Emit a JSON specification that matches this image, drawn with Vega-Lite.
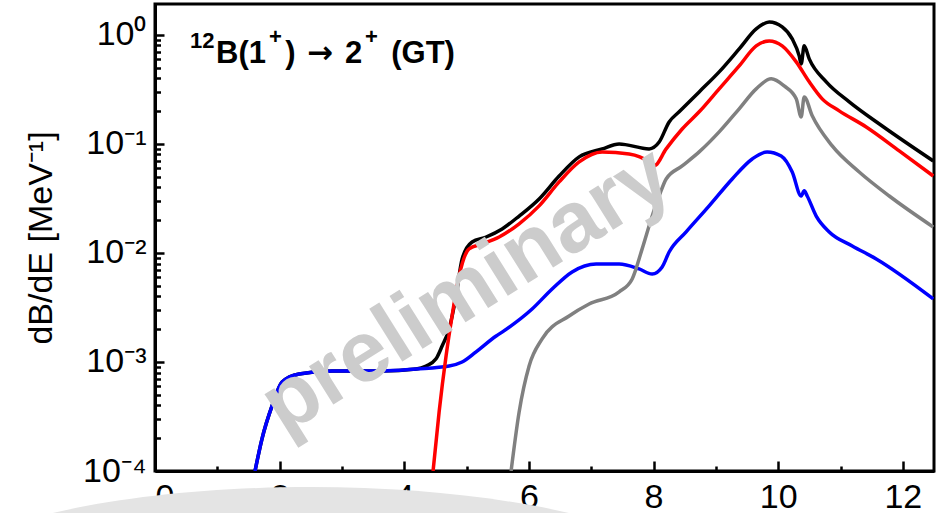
{
  "$schema": "https://vega.github.io/schema/vega-lite/v6.json",
  "width": 779,
  "height": 467,
  "autosize": {"type": "none"},
  "padding": {"left": 155, "top": 4, "right": 9, "bottom": 42},
  "background": "white",
  "config": {
    "view": {"stroke": "black", "strokeWidth": 3},
    "axis": {
      "grid": false,
      "domainColor": "black",
      "domainWidth": 3,
      "tickColor": "black",
      "tickWidth": 2.5,
      "labelColor": "black",
      "labelFont": "Liberation Sans",
      "labelFontSize": 34,
      "titleFont": "Liberation Sans",
      "titleFontSize": 34,
      "titleFontWeight": "normal",
      "titleColor": "black"
    },
    "text": {"font": "Liberation Sans", "fontWeight": "bold", "color": "black", "align": "left", "baseline": "alphabetic"}
  },
  "datasets": {
    "spectra": [
      {"s": "total", "e": 1.605, "v": 1.0e-4},
      {"s": "total", "e": 1.717, "v": 1.97e-4},
      {"s": "total", "e": 1.878, "v": 3.95e-4},
      {"s": "total", "e": 2.039, "v": 6.55e-4},
      {"s": "total", "e": 2.311, "v": 7.76e-4},
      {"s": "total", "e": 2.841, "v": 8.27e-4},
      {"s": "total", "e": 3.644, "v": 8.27e-4},
      {"s": "total", "e": 4.189, "v": 8.63e-4},
      {"s": "total", "e": 4.350, "v": 9.19e-4},
      {"s": "total", "e": 4.510, "v": 1.07e-3},
      {"s": "total", "e": 4.607, "v": 1.40e-3},
      {"s": "total", "e": 4.719, "v": 2.01e-3},
      {"s": "total", "e": 4.831, "v": 4.03e-3},
      {"s": "total", "e": 4.928, "v": 8.81e-3},
      {"s": "total", "e": 5.088, "v": 1.26e-2},
      {"s": "total", "e": 5.313, "v": 1.40e-2},
      {"s": "total", "e": 5.570, "v": 1.66e-2},
      {"s": "total", "e": 5.843, "v": 2.18e-2},
      {"s": "total", "e": 6.164, "v": 3.13e-2},
      {"s": "total", "e": 6.485, "v": 5.08e-2},
      {"s": "total", "e": 6.806, "v": 7.60e-2},
      {"s": "total", "e": 7.175, "v": 9.00e-2},
      {"s": "total", "e": 7.448, "v": 0.100},
      {"s": "total", "e": 7.929, "v": 0.090},
      {"s": "total", "e": 8.090, "v": 0.104},
      {"s": "total", "e": 8.250, "v": 0.159},
      {"s": "total", "e": 8.411, "v": 0.197},
      {"s": "total", "e": 8.732, "v": 0.300},
      {"s": "total", "e": 9.053, "v": 0.458},
      {"s": "total", "e": 9.374, "v": 0.744},
      {"s": "total", "e": 9.647, "v": 1.135},
      {"s": "total", "e": 9.856, "v": 1.316},
      {"s": "total", "e": 10.064, "v": 1.184},
      {"s": "total", "e": 10.225, "v": 0.919},
      {"s": "total", "e": 10.337, "v": 0.642},
      {"s": "total", "e": 10.369, "v": 0.542},
      {"s": "total", "e": 10.417, "v": 0.793},
      {"s": "total", "e": 10.498, "v": 0.602},
      {"s": "total", "e": 10.771, "v": 0.371},
      {"s": "total", "e": 11.140, "v": 0.243},
      {"s": "total", "e": 11.669, "v": 0.146},
      {"s": "total", "e": 12.488, "v": 0.0698},

      {"s": "low", "e": 1.605, "v": 1.0e-4},
      {"s": "low", "e": 1.717, "v": 1.97e-4},
      {"s": "low", "e": 1.878, "v": 3.95e-4},
      {"s": "low", "e": 2.039, "v": 6.55e-4},
      {"s": "low", "e": 2.311, "v": 7.76e-4},
      {"s": "low", "e": 2.841, "v": 8.27e-4},
      {"s": "low", "e": 3.644, "v": 8.27e-4},
      {"s": "low", "e": 4.189, "v": 8.63e-4},
      {"s": "low", "e": 4.719, "v": 9.19e-4},
      {"s": "low", "e": 4.928, "v": 1.0e-3},
      {"s": "low", "e": 5.152, "v": 1.24e-3},
      {"s": "low", "e": 5.474, "v": 1.73e-3},
      {"s": "low", "e": 5.570, "v": 1.88e-3},
      {"s": "low", "e": 6.051, "v": 3.06e-3},
      {"s": "low", "e": 6.372, "v": 4.67e-3},
      {"s": "low", "e": 6.693, "v": 6.70e-3},
      {"s": "low", "e": 7.079, "v": 7.92e-3},
      {"s": "low", "e": 7.448, "v": 7.92e-3},
      {"s": "low", "e": 7.769, "v": 7.13e-3},
      {"s": "low", "e": 7.978, "v": 6.41e-3},
      {"s": "low", "e": 8.138, "v": 7.44e-3},
      {"s": "low", "e": 8.250, "v": 1.02e-2},
      {"s": "low", "e": 8.523, "v": 1.56e-2},
      {"s": "low", "e": 8.892, "v": 2.70e-2},
      {"s": "low", "e": 9.262, "v": 4.77e-2},
      {"s": "low", "e": 9.583, "v": 7.28e-2},
      {"s": "low", "e": 9.823, "v": 8.45e-2},
      {"s": "low", "e": 10.048, "v": 7.76e-2},
      {"s": "low", "e": 10.225, "v": 5.53e-2},
      {"s": "low", "e": 10.369, "v": 3.33e-2},
      {"s": "low", "e": 10.417, "v": 3.71e-2},
      {"s": "low", "e": 10.465, "v": 3.33e-2},
      {"s": "low", "e": 10.610, "v": 2.18e-2},
      {"s": "low", "e": 10.819, "v": 1.56e-2},
      {"s": "low", "e": 11.188, "v": 1.16e-2},
      {"s": "low", "e": 11.573, "v": 8.81e-3},
      {"s": "low", "e": 12.488, "v": 3.79e-3},

      {"s": "mid", "e": 4.462, "v": 1.0e-4},
      {"s": "mid", "e": 4.559, "v": 3.48e-4},
      {"s": "mid", "e": 4.671, "v": 1.14e-3},
      {"s": "mid", "e": 4.767, "v": 2.64e-3},
      {"s": "mid", "e": 4.880, "v": 6.15e-3},
      {"s": "mid", "e": 5.040, "v": 1.09e-2},
      {"s": "mid", "e": 5.249, "v": 1.21e-2},
      {"s": "mid", "e": 5.522, "v": 1.40e-2},
      {"s": "mid", "e": 5.843, "v": 1.85e-2},
      {"s": "mid", "e": 6.164, "v": 2.70e-2},
      {"s": "mid", "e": 6.485, "v": 4.48e-2},
      {"s": "mid", "e": 6.806, "v": 6.84e-2},
      {"s": "mid", "e": 7.175, "v": 8.45e-2},
      {"s": "mid", "e": 7.608, "v": 8.10e-2},
      {"s": "mid", "e": 7.929, "v": 6.84e-2},
      {"s": "mid", "e": 8.010, "v": 6.28e-2},
      {"s": "mid", "e": 8.202, "v": 9.00e-2},
      {"s": "mid", "e": 8.459, "v": 0.137},
      {"s": "mid", "e": 8.732, "v": 0.197},
      {"s": "mid", "e": 9.053, "v": 0.320},
      {"s": "mid", "e": 9.374, "v": 0.519},
      {"s": "mid", "e": 9.647, "v": 0.793},
      {"s": "mid", "e": 9.856, "v": 0.881},
      {"s": "mid", "e": 10.064, "v": 0.793},
      {"s": "mid", "e": 10.289, "v": 0.566},
      {"s": "mid", "e": 10.498, "v": 0.371},
      {"s": "mid", "e": 10.706, "v": 0.259},
      {"s": "mid", "e": 10.979, "v": 0.201},
      {"s": "mid", "e": 11.412, "v": 0.143},
      {"s": "mid", "e": 11.942, "v": 8.63e-2},
      {"s": "mid", "e": 12.488, "v": 5.08e-2},

      {"s": "high", "e": 5.714, "v": 1.0e-4},
      {"s": "high", "e": 5.843, "v": 3.48e-4},
      {"s": "high", "e": 6.003, "v": 9.19e-4},
      {"s": "high", "e": 6.212, "v": 1.63e-3},
      {"s": "high", "e": 6.645, "v": 2.64e-3},
      {"s": "high", "e": 6.966, "v": 3.40e-3},
      {"s": "high", "e": 7.448, "v": 4.39e-3},
      {"s": "high", "e": 7.657, "v": 5.77e-3},
      {"s": "high", "e": 7.817, "v": 1.09e-2},
      {"s": "high", "e": 7.978, "v": 2.18e-2},
      {"s": "high", "e": 8.090, "v": 3.33e-2},
      {"s": "high", "e": 8.202, "v": 4.77e-2},
      {"s": "high", "e": 8.459, "v": 6.28e-2},
      {"s": "high", "e": 8.732, "v": 8.45e-2},
      {"s": "high", "e": 9.053, "v": 0.129},
      {"s": "high", "e": 9.374, "v": 0.210},
      {"s": "high", "e": 9.647, "v": 0.320},
      {"s": "high", "e": 9.888, "v": 0.395},
      {"s": "high", "e": 10.096, "v": 0.340},
      {"s": "high", "e": 10.289, "v": 0.259},
      {"s": "high", "e": 10.369, "v": 0.177},
      {"s": "high", "e": 10.417, "v": 0.270},
      {"s": "high", "e": 10.546, "v": 0.181},
      {"s": "high", "e": 10.867, "v": 9.59e-2},
      {"s": "high", "e": 11.300, "v": 5.53e-2},
      {"s": "high", "e": 11.782, "v": 3.33e-2},
      {"s": "high", "e": 12.488, "v": 1.73e-2}
    ],
    "labels": [
      {"id": "mass", "text": "12"},
      {"id": "parent", "text": "B(1"},
      {"id": "plus1", "text": "+"},
      {"id": "close", "text": ")"},
      {"id": "arrow", "text": "→"},
      {"id": "final", "text": "2"},
      {"id": "plus2", "text": "+"},
      {"id": "kind", "text": "(GT)"},
      {"id": "mark", "text": "preliminary"}
    ]
  },
  "layer": [
    {
      "data": {"name": "spectra"},
      "transform": [{"filter": "datum.s == 'total'"}],
      "mark": {"type": "line", "color": "#000000", "strokeWidth": 3.5, "clip": true, "interpolate": "monotone"},
      "encoding": {
        "x": {
          "field": "e",
          "type": "quantitative",
          "scale": {"domain": [0, 12.5], "nice": false, "zero": false},
          "axis": {
            "title": null,
            "values": [0, 0.5, 1, 1.5, 2, 2.5, 3, 3.5, 4, 4.5, 5, 5.5, 6, 6.5, 7, 7.5, 8, 8.5, 9, 9.5, 10, 10.5, 11, 11.5, 12],
            "labelExpr": "datum.value % 2 == 0 ? format(datum.value, 'd') : ''",
            "tickSize": {"condition": {"test": "datum.value % 2 == 0", "value": -10}, "value": -5},
            "labelPadding": 19,
            "labelBaseline": "top"
          }
        },
        "y": {
          "field": "v",
          "type": "quantitative",
          "scale": {"type": "log", "domain": [0.0001, 1.92], "nice": false},
          "axis": {
            "title": "dB/dE [MeV⁻¹]",
            "titlePadding": 24,
            "values": [0.0001, 0.0002, 0.0003, 0.0004, 0.0005, 0.0006, 0.0007, 0.0008, 0.0009,
                       0.001, 0.002, 0.003, 0.004, 0.005, 0.006, 0.007, 0.008, 0.009,
                       0.01, 0.02, 0.03, 0.04, 0.05, 0.06, 0.07, 0.08, 0.09,
                       0.1, 0.2, 0.3, 0.4, 0.5, 0.6, 0.7, 0.8, 0.9, 1],
            "labelExpr": "datum.value == 1 ? '10⁰' : datum.value == 0.1 ? '10⁻¹' : datum.value == 0.01 ? '10⁻²' : datum.value == 0.001 ? '10⁻³' : datum.value == 0.0001 ? '10⁻⁴' : ''",
            "tickSize": {"condition": {"test": "indexof([1, 0.1, 0.01, 0.001, 0.0001], datum.value) >= 0", "value": -9}, "value": -5.5},
            "labelPadding": 18
          }
        }
      }
    },
    {
      "data": {"name": "spectra"},
      "transform": [{"filter": "datum.s == 'low'"}],
      "mark": {"type": "line", "color": "#0000ff", "strokeWidth": 3.5, "clip": true, "interpolate": "monotone"},
      "encoding": {
        "x": {"field": "e", "type": "quantitative"},
        "y": {"field": "v", "type": "quantitative"}
      }
    },
    {
      "data": {"name": "spectra"},
      "transform": [{"filter": "datum.s == 'mid'"}],
      "mark": {"type": "line", "color": "#ff0000", "strokeWidth": 3.5, "clip": true, "interpolate": "monotone"},
      "encoding": {
        "x": {"field": "e", "type": "quantitative"},
        "y": {"field": "v", "type": "quantitative"}
      }
    },
    {
      "data": {"name": "spectra"},
      "transform": [{"filter": "datum.s == 'high'"}],
      "mark": {"type": "line", "color": "#808080", "strokeWidth": 3.5, "clip": true, "interpolate": "monotone"},
      "encoding": {
        "x": {"field": "e", "type": "quantitative"},
        "y": {"field": "v", "type": "quantitative"}
      }
    },
    {
      "data": {"name": "labels"},
      "transform": [{"filter": "datum.id == 'mass'"}],
      "mark": {"type": "text", "fontSize": 22},
      "encoding": {
        "x": {"datum": 0.562, "type": "quantitative"},
        "y": {"datum": 0.76, "type": "quantitative"},
        "text": {"field": "text"}
      }
    },
    {
      "data": {"name": "labels"},
      "transform": [{"filter": "datum.id == 'parent'"}],
      "mark": {"type": "text", "fontSize": 31},
      "encoding": {
        "x": {"datum": 0.98, "type": "quantitative"},
        "y": {"datum": 0.554, "type": "quantitative"},
        "text": {"field": "text"}
      }
    },
    {
      "data": {"name": "labels"},
      "transform": [{"filter": "datum.id == 'plus1'"}],
      "mark": {"type": "text", "fontSize": 22},
      "encoding": {
        "x": {"datum": 1.83, "type": "quantitative"},
        "y": {"datum": 0.827, "type": "quantitative"},
        "text": {"field": "text"}
      }
    },
    {
      "data": {"name": "labels"},
      "transform": [{"filter": "datum.id == 'close'"}],
      "mark": {"type": "text", "fontSize": 31},
      "encoding": {
        "x": {"datum": 2.09, "type": "quantitative"},
        "y": {"datum": 0.554, "type": "quantitative"},
        "text": {"field": "text"}
      }
    },
    {
      "data": {"name": "labels"},
      "transform": [{"filter": "datum.id == 'arrow'"}],
      "mark": {"type": "text", "fontSize": 31, "font": "DejaVu Sans"},
      "encoding": {
        "x": {"datum": 2.44, "type": "quantitative"},
        "y": {"datum": 0.554, "type": "quantitative"},
        "text": {"field": "text"}
      }
    },
    {
      "data": {"name": "labels"},
      "transform": [{"filter": "datum.id == 'final'"}],
      "mark": {"type": "text", "fontSize": 31},
      "encoding": {
        "x": {"datum": 3.05, "type": "quantitative"},
        "y": {"datum": 0.554, "type": "quantitative"},
        "text": {"field": "text"}
      }
    },
    {
      "data": {"name": "labels"},
      "transform": [{"filter": "datum.id == 'plus2'"}],
      "mark": {"type": "text", "fontSize": 22},
      "encoding": {
        "x": {"datum": 3.37, "type": "quantitative"},
        "y": {"datum": 0.827, "type": "quantitative"},
        "text": {"field": "text"}
      }
    },
    {
      "data": {"name": "labels"},
      "transform": [{"filter": "datum.id == 'kind'"}],
      "mark": {"type": "text", "fontSize": 31},
      "encoding": {
        "x": {"datum": 3.79, "type": "quantitative"},
        "y": {"datum": 0.554, "type": "quantitative"},
        "text": {"field": "text"}
      }
    },
    {
      "data": {"name": "labels"},
      "transform": [{"filter": "datum.id == 'mark'"}],
      "mark": {"type": "text", "fontSize": 86, "align": "center", "baseline": "middle", "angle": -32, "color": "#cccccc"},
      "encoding": {
        "x": {"datum": 5.0, "type": "quantitative"},
        "y": {"datum": 0.0045, "type": "quantitative"},
        "text": {"field": "text"}
      }
    },
    {
      "data": {"values": [{"id": "backdrop"}]},
      "mark": {
        "type": "point",
        "shape": "M -1 0 A 1 0.275 0 1 0 1 0 A 1 0.275 0 1 0 -1 0 Z",
        "size": 640000,
        "filled": true,
        "color": "#e4e4e4",
        "opacity": 1,
        "strokeWidth": 0,
        "clip": false
      },
      "encoding": {
        "x": {"datum": 2.5, "type": "quantitative"},
        "y": {"datum": 0.00000698, "type": "quantitative"}
      }
    }
  ]
}
